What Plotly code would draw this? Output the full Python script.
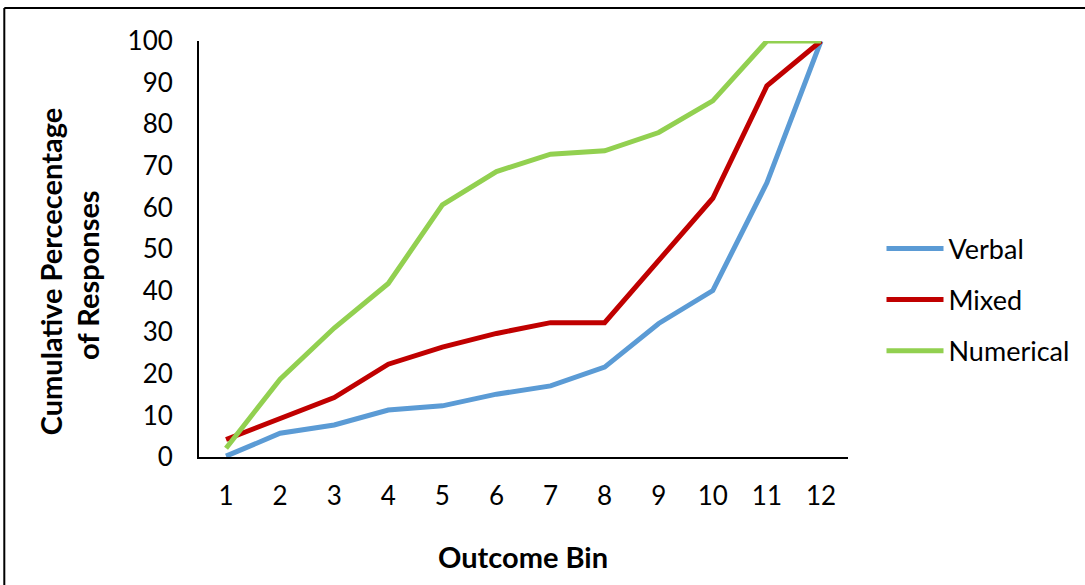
import plotly.graph_objects as go

bins = [1, 2, 3, 4, 5, 6, 7, 8, 9, 10, 11, 12]
verbal = [0.2, 5.7, 7.7, 11.3, 12.3, 15.1, 17.1, 21.6, 32.1, 40.0, 65.9, 100]
mixed = [4.2, 9.3, 14.3, 22.3, 26.4, 29.7, 32.3, 32.3, 47.4, 62.2, 89.2, 100]
numerical = [2.1, 18.7, 31.0, 41.7, 60.6, 68.6, 72.8, 73.6, 78.0, 85.6, 100, 100]
y_ticks = [0, 10, 20, 30, 40, 50, 60, 70, 80, 90, 100]

FONT = "Lato, 'Open Sans', sans-serif"

series = [
    ("Verbal", verbal, "#5B9BD5"),
    ("Mixed", mixed, "#C00000"),
    ("Numerical", numerical, "#92D050"),
]

fig = go.Figure()
for name, vals, color in series:
    fig.add_trace(go.Scatter(
        x=bins, y=vals, name=name, mode="lines",
        legendgroup=name,
        line=dict(color=color, width=5),
    ))

fig.update_layout(
    width=1085, height=585,
    margin=dict(l=199, r=236, t=41, b=128),
    plot_bgcolor="white", paper_bgcolor="white",
    font=dict(family=FONT, size=26, color="black"),
    showlegend=True,
    legend=dict(
        x=1.05, y=0.559, xanchor="left", yanchor="top",
        font=dict(family=FONT, size=27, color="black"),
        itemwidth=57, tracegroupgap=13,
        bgcolor="rgba(0,0,0,0)",
    ),
    xaxis=dict(
        range=[0.5, 12.5], tickmode="array", tickvals=bins,
        ticktext=[str(b) for b in bins],
        showgrid=False, zeroline=False,
        showline=True, linecolor="black", linewidth=2,
        ticks="", ticklabelstandoff=15,
        tickfont=dict(family=FONT, size=26),
    ),
    yaxis=dict(
        range=[0, 100], tickmode="array", tickvals=y_ticks,
        showgrid=False, zeroline=False,
        showline=True, linecolor="black", linewidth=2,
        ticks="", ticklabelstandoff=19,
        tickfont=dict(family=FONT, size=26),
    ),
)

# axis titles
title_font = dict(family=FONT, size=29, color="black", weight="bold")
fig.add_annotation(
    text="Cumulative Percecentage", textangle=-90,
    xref="paper", yref="paper", x=-0.2292, y=0.447,
    xanchor="center", yanchor="middle",
    showarrow=False, font=title_font,
)
fig.add_annotation(
    text="of Responses", textangle=-90,
    xref="paper", yref="paper", x=-0.1708, y=0.438,
    xanchor="center", yanchor="middle",
    showarrow=False, font=title_font,
)
fig.add_annotation(
    text="Outcome Bin",
    xref="paper", yref="paper", x=0.4985, y=-0.240,
    xanchor="center", yanchor="middle",
    showarrow=False, font=title_font,
)

# outer frame (top and left edges)
fig.add_shape(type="line", xref="paper", yref="paper",
              x0=-0.3, y0=-0.35, x1=-0.3, y1=1.0793,
              line=dict(color="black", width=2))
fig.add_shape(type="line", xref="paper", yref="paper",
              x0=-0.3, y0=1.0793, x1=1.4, y1=1.0793,
              line=dict(color="black", width=2))

fig.write_html("out.html")
